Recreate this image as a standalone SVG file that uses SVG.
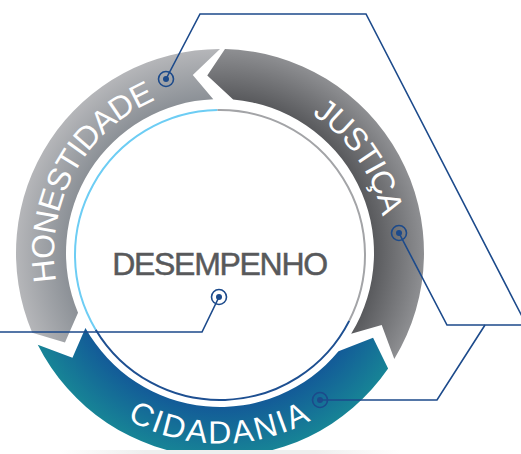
<svg xmlns="http://www.w3.org/2000/svg" width="521" height="454" viewBox="0 0 521 454">
  <style>
    .band-label { font-family: "Liberation Sans", Arial, sans-serif; font-size: 32px; fill: #ffffff; }
    .center-label { font-family: "Liberation Sans", Arial, sans-serif; font-size: 32px; fill: #58595b; stroke: #58595b; stroke-width: 0.5; letter-spacing: -1.3px; }
    .conn { fill: none; stroke: #1c4a8b; stroke-width: 1.6; stroke-linejoin: miter; }
    .mark-ring { fill: none; stroke: #1c4a8b; stroke-width: 1.6; }
    .mark-dot { fill: #1c4a8b; }
    .ring { fill: none; stroke-width: 2; }
  </style>
  <defs>
    <radialGradient id="gHon" gradientUnits="userSpaceOnUse" cx="220" cy="253" r="204">
      <stop offset="0.75" stop-color="#8b9096"/>
      <stop offset="1" stop-color="#b5b6b9"/>
    </radialGradient>
    <radialGradient id="gJus" gradientUnits="userSpaceOnUse" cx="220" cy="253" r="204">
      <stop offset="0.75" stop-color="#58595c"/>
      <stop offset="1" stop-color="#8e8f92"/>
    </radialGradient>
    <radialGradient id="gCid" gradientUnits="userSpaceOnUse" cx="220" cy="253" r="204">
      <stop offset="0.75" stop-color="#135a98"/>
      <stop offset="1" stop-color="#178496"/>
    </radialGradient>
    <linearGradient id="gShadow" x1="0" y1="0" x2="1" y2="0">
      <stop offset="0" stop-color="#ffffff"/>
      <stop offset="0.25" stop-color="#eeeeee"/>
      <stop offset="0.75" stop-color="#eeeeee"/>
      <stop offset="1" stop-color="#ffffff"/>
    </linearGradient>
    <path id="pHon" d="M140.55,399.32 A166.5,166.5 0 0 1 299.45,106.68"/>
    <path id="pJus" d="M125.21,116.11 A166.5,166.5 0 0 1 314.79,389.89"/>
    <path id="pCid" d="M29.5,253 A190.5,190.5 0 0 0 410.5,253"/>
  </defs>

  <rect x="0" y="0" width="521" height="454" fill="#ffffff"/>

  <g id="node-honestidade">
    <path d="M32.22,332.71 A204,204 0 0 1 220,49 L192.77,75.07 L213.28,99.15 A154,154 0 0 0 78.03,312.68 L64.98,342.5 Z" fill="url(#gHon)"/>
    <text class="band-label" letter-spacing="-0.8"><textPath href="#pHon" startOffset="50%" text-anchor="middle">HONESTIDADE</textPath></text>
  </g>

  <g id="node-justica">
    <path d="M224.98,49.06 A204,204 0 0 1 394.30,358.98 L381.70,324.99 L351.17,333.69 A154,154 0 0 0 233.15,99.56 L207.27,75.46 Z" fill="url(#gJus)"/>
    <text class="band-label" letter-spacing="-1"><textPath href="#pJus" startOffset="50%" text-anchor="middle">JUSTIÇA</textPath></text>
  </g>

  <g id="node-cidadania">
    <path d="M388.12,368.55 A204,204 0 0 1 37.75,344.66 L72.47,357.85 L85.43,327.89 A154,154 0 0 0 338.49,351.37 L373.06,337.84 Z" fill="url(#gCid)"/>
    <text class="band-label" letter-spacing="2.2"><textPath href="#pCid" startOffset="50%" text-anchor="middle">CIDADANIA</textPath></text>
  </g>

  <rect x="60" y="450" width="340" height="4" fill="url(#gShadow)"/>

  <g id="node-desempenho">
    <path class="ring" d="M95.71,329.68 A145,145 0 0 1 217.47,110.02" stroke="#6dcdf4"/>
    <path class="ring" d="M217.47,110.02 A145,145 0 0 1 349.20,320.83" stroke="#a3a4a7"/>
    <path class="ring" d="M349.20,320.83 A145,145 0 0 1 95.71,329.68" stroke="#1d4f91" stroke-width="2.4"/>
    <text class="center-label" x="219.5" y="275" text-anchor="middle">DESEMPENHO</text>
  </g>

  <g id="connectors">
    <polyline class="conn" points="166,79 200,14 366,14 527,326"/>
    <polyline class="conn" points="399,233 447,325 530,325"/>
    <polyline class="conn" points="320,400 437,400 485,325"/>
    <polyline class="conn" points="219,297 202,332 -2,332"/>
    <circle class="mark-ring" cx="166" cy="79" r="7.5"/>
    <circle class="mark-dot" cx="166" cy="79" r="3"/>
    <circle class="mark-ring" cx="399" cy="233" r="7.5"/>
    <circle class="mark-dot" cx="399" cy="233" r="3"/>
    <circle class="mark-ring" cx="320" cy="400" r="7.5"/>
    <circle class="mark-dot" cx="320" cy="400" r="3"/>
    <circle class="mark-ring" cx="219" cy="297" r="7.5"/>
    <circle class="mark-dot" cx="219" cy="297" r="3"/>
  </g>
</svg>
